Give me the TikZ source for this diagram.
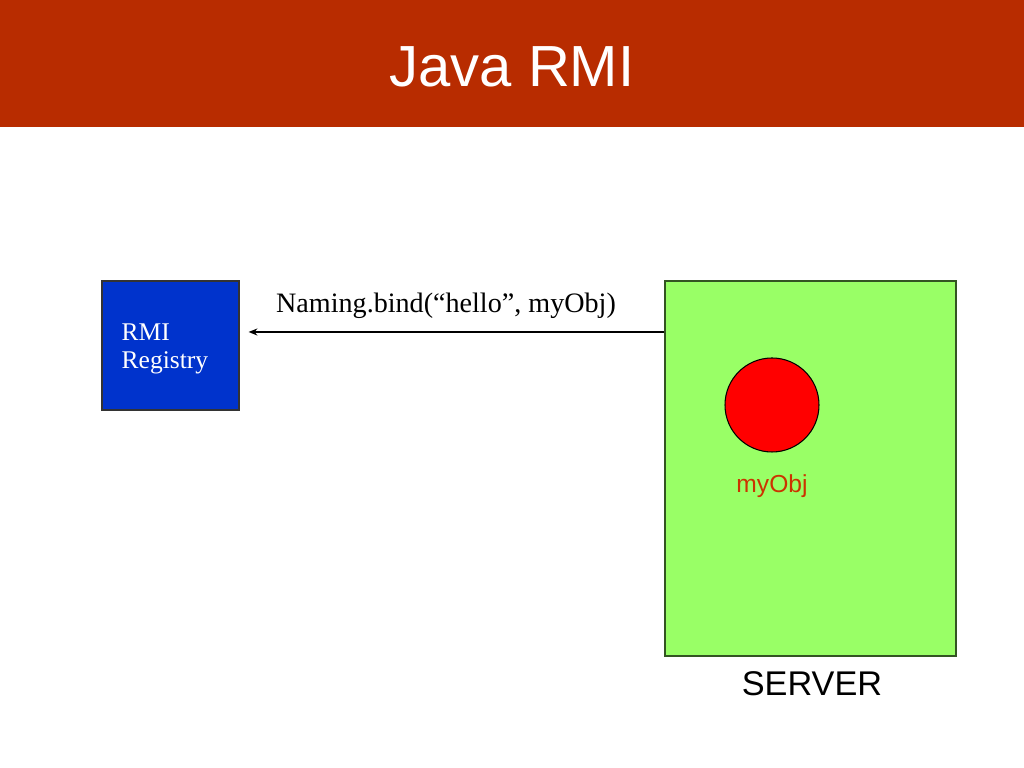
\documentclass[tikz,border=0pt]{standalone}
\usepackage{fontspec}
\setmainfont{Liberation Serif}
\setsansfont{Liberation Sans}
\usepackage{tikz}
\usetikzlibrary{arrows.meta, positioning}

\definecolor{titlered}{RGB}{184,44,0}
\definecolor{regblue}{RGB}{0,51,204}
\definecolor{servergreen}{RGB}{153,255,102}
\definecolor{serveredge}{RGB}{51,85,34}
\definecolor{objred}{RGB}{255,0,0}
\definecolor{objlabel}{RGB}{204,51,0}

\begin{document}
\begin{tikzpicture}[
        box/.style={draw, rectangle, line width=0.7pt},
        slabel/.style={font=\sffamily},
    ]
        \useasboundingbox[fill=white] (0,0) rectangle (20.48,15.36);
        % Title bar
        \fill[titlered] (0,12.82) rectangle (20.48,15.36);
        \node[anchor=base, text=white, font=\sffamily\fontsize{33}{38}\selectfont] (title) at (10.24,13.62) {Java RMI};

        % Registry and server
        \node[box, draw=black!80, fill=regblue, minimum width=2.74cm, minimum height=2.58cm] (registry) at (3.41,8.45) {};
        \node[anchor=west, text=white, align=left, inner sep=0pt, xshift=0.4cm, yshift=-0.06cm,
              font=\fontsize{14.5}{16}\selectfont] (regtext) at (registry.west) {RMI\\Registry};
        \node[box, draw=serveredge, fill=servergreen, minimum width=5.82cm, minimum height=7.5cm] (server) at (16.21,5.99) {};
        \node[slabel, anchor=base, font=\sffamily\fontsize{19.5}{22}\selectfont] (serverlabel) at (16.24,1.45) {SERVER};

        % Remote object
        \node[draw, circle, fill=objred, line width=0.6pt, minimum size=1.88cm] (myobj) at (15.44,7.26) {};
        \node[slabel, anchor=base, text=objlabel, font=\sffamily\fontsize{14}{16}\selectfont] (myobjlabel) at (15.44,5.5) {myObj};

        % bind call
        \coordinate (bindy) at (0,8.72);
        \draw[-{Stealth[length=5pt, width=4pt]}, line width=0.8pt, shorten >=0.18cm] (server.west |- bindy) -- (registry.east |- bindy);
        \node[anchor=base, font=\fontsize{16}{19}\selectfont] (bindlabel) at (8.92,9.1) {Naming.bind(“hello”, myObj)};
    \end{tikzpicture}
\end{document}
